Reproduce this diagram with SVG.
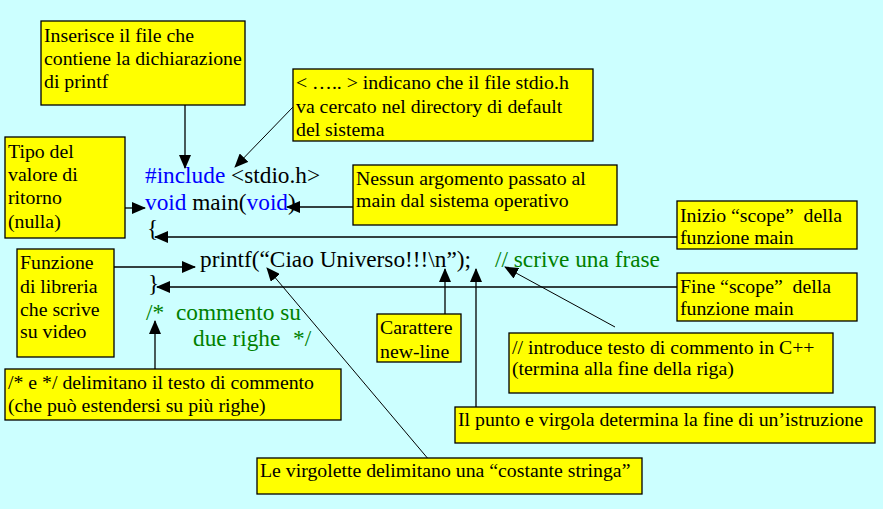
<svg xmlns="http://www.w3.org/2000/svg" width="883" height="509" viewBox="0 0 883 509">
<defs>
<style>
.box{fill:#FFFF00;stroke:#000;stroke-width:1.3}
.t{font-family:"Liberation Serif","Times New Roman",serif;font-size:19.8px;fill:#000}
.code{font-family:"Liberation Serif","Times New Roman",serif;font-size:23.3px;fill:#000}
.kw{fill:#0000FF}
.cm{fill:#008000}
.ln{stroke:#000;stroke-width:1.3;fill:none}
.thin{stroke:#000;stroke-width:1;fill:none}
</style>
<marker id="ah" viewBox="0 0 14 12" refX="13" refY="6" markerWidth="14" markerHeight="12" markerUnits="userSpaceOnUse" orient="auto">
<path d="M0,0 L14,6 L0,12 z" fill="#000"/>
</marker>
</defs>
<rect x="0" y="0" width="883" height="509" fill="#CCFFFF"/>

<g id="code">
<text class="code" x="145" y="183"><tspan class="kw">#include</tspan> &lt;stdio.h&gt;</text>
<text class="code" x="145" y="210"><tspan class="kw">void</tspan> main(<tspan class="kw">void</tspan>)</text>
<text class="code" x="147" y="236">{</text>
<text class="code" x="200" y="267">printf(“Ciao Universo!!!\n”);</text>
<text class="code cm" x="495" y="267">// scrive una frase</text>
<text class="code" x="148" y="291">}</text>
<text class="code cm" x="146" y="320">/*</text>
<text class="code cm" x="176" y="320">commento su</text>
<text class="code cm" x="193" y="346">due righe</text>
<text class="code cm" x="293" y="346">*/</text>
</g>

<g id="connectors">
<line class="ln" x1="185" y1="105" x2="185" y2="168" marker-end="url(#ah)"/>
<line class="thin" x1="293" y1="107" x2="235" y2="167" marker-end="url(#ah)"/>
<line class="ln" x1="125" y1="208" x2="145" y2="208" marker-end="url(#ah)"/>
<line class="ln" x1="353" y1="207" x2="287" y2="207" marker-end="url(#ah)"/>
<line class="ln" x1="677" y1="237" x2="155" y2="237" marker-end="url(#ah)"/>
<line class="ln" x1="114" y1="267" x2="195" y2="267" marker-end="url(#ah)"/>
<line class="ln" x1="677" y1="287" x2="157" y2="287" marker-end="url(#ah)"/>
<line class="ln" x1="155" y1="369" x2="155" y2="321" marker-end="url(#ah)"/>
<line class="ln" x1="445" y1="314" x2="445" y2="269" marker-end="url(#ah)"/>
<line class="ln" x1="476" y1="407" x2="476" y2="269" marker-end="url(#ah)"/>
<line class="thin" x1="615" y1="327" x2="505" y2="267" marker-end="url(#ah)"/>
<line class="thin" x1="435" y1="467" x2="267" y2="268" marker-end="url(#ah)"/>
</g>

<g id="n-include">
<rect class="box" x="41" y="21" width="204" height="84"/>
<text class="t" x="44" y="42">Inserisce il file che</text>
<text class="t" x="44" y="65">contiene la dichiarazione</text>
<text class="t" x="44" y="88">di printf</text>
</g>

<g id="n-stdio">
<rect class="box" x="293" y="69" width="300" height="72"/>
<text class="t" x="296" y="89">&lt; ….. &gt; indicano che il file stdio.h</text>
<text class="t" x="296" y="113">va cercato nel directory di default</text>
<text class="t" x="296" y="136">del sistema</text>
</g>

<g id="n-tipo">
<rect class="box" x="5" y="137" width="120" height="101"/>
<text class="t" x="8" y="158">Tipo del</text>
<text class="t" x="8" y="181">valore di</text>
<text class="t" x="8" y="204">ritorno</text>
<text class="t" x="8" y="228">(nulla)</text>
</g>

<g id="n-nessun">
<rect class="box" x="353" y="165" width="264" height="60"/>
<text class="t" x="356" y="185">Nessun argomento passato al</text>
<text class="t" x="356" y="207">main dal sistema operativo</text>
</g>

<g id="n-inizio">
<rect class="box" x="677" y="201" width="180" height="48"/>
<text class="t" x="680" y="222" xml:space="preserve">Inizio “scope”  della</text>
<text class="t" x="680" y="244">funzione main</text>
</g>

<g id="n-fine">
<rect class="box" x="677" y="273" width="180" height="48"/>
<text class="t" x="680" y="293" xml:space="preserve">Fine “scope”  della</text>
<text class="t" x="680" y="315">funzione main</text>
</g>

<g id="n-funzione">
<rect class="box" x="17" y="249" width="97" height="108"/>
<text class="t" x="20" y="269">Funzione</text>
<text class="t" x="20" y="293">di libreria</text>
<text class="t" x="20" y="316">che scrive</text>
<text class="t" x="20" y="338">su video</text>
</g>

<g id="n-commento">
<rect class="box" x="5" y="369" width="336" height="51"/>
<text class="t" x="8" y="389">/* e */ delimitano il testo di commento</text>
<text class="t" x="8" y="412">(che può estendersi su più righe)</text>
</g>

<g id="n-newline">
<rect class="box" x="377" y="314" width="84" height="48"/>
<text class="t" x="380" y="334">Carattere</text>
<text class="t" x="380" y="358">new-line</text>
</g>

<g id="n-cpp">
<rect class="box" x="509" y="333" width="324" height="60"/>
<text class="t" x="512" y="354">// introduce testo di commento in C++</text>
<text class="t" x="512" y="375">(termina alla fine della riga)</text>
</g>

<g id="n-punto">
<rect class="box" x="455" y="407" width="420" height="36"/>
<text class="t" x="458" y="426">Il punto e virgola determina la fine di un’istruzione</text>
</g>

<g id="n-virgolette">
<rect class="box" x="257" y="458" width="385" height="36"/>
<text class="t" x="260" y="477">Le virgolette delimitano una “costante stringa”</text>
</g>
</svg>
